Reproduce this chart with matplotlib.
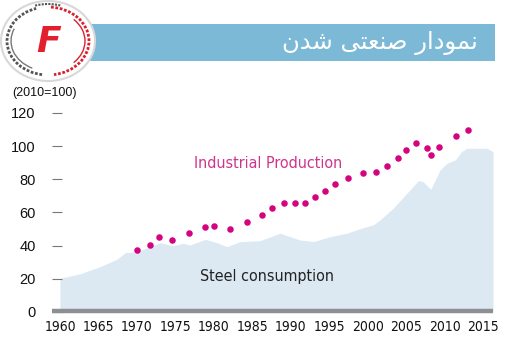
import matplotlib.pyplot as plt
from matplotlib.patches import Arc, Ellipse, Rectangle

# steel consumption outline (2010=100)
steel_years = [1960, 1962.6, 1965.2, 1967.4, 1968.5, 1970, 1971.7, 1973,
               1974.7, 1976, 1976.9, 1978.9, 1980.4, 1981.7, 1983.4, 1986,
               1988.6, 1991.2, 1993, 1995.1, 1997.3, 1999.4, 2000.7, 2001.6,
               2003.3, 2005.1, 2006.6, 2007.2, 2008.2, 2009.4, 2010.3,
               2011.4, 2012.2, 2012.9, 2015.5, 2016.3]
steel_values = [20.3, 23, 27.3, 31.8, 35.8, 36.4, 39.4, 41.8,
                40, 41.4, 40.4, 43.8, 41.8, 39.4, 42.4, 43,
                47.5, 43.4, 42.5, 45.4, 47.5, 50.8, 52.5, 55.5,
                62.5, 71.6, 79.2, 78.6, 74, 85.6, 89.7,
                91.7, 96.7, 98.7, 98.7, 96.7]

# industrial production dots
ip_years = [1970.0, 1971.7, 1972.9, 1974.6, 1976.8, 1978.9, 1980.0, 1982.1,
            1984.3, 1986.2, 1987.6, 1989.1, 1990.5, 1991.9, 1993.2, 1994.5,
            1995.8, 1997.5, 1999.4, 2001.1, 2002.5, 2003.9, 2005.0, 2006.3,
            2007.7, 2008.2, 2009.3, 2011.5, 2013.1]
ip_values = [37.4, 40.2, 45.4, 43.6, 47.8, 51.5, 51.7, 49.9,
             54.5, 58.4, 62.6, 65.8, 66.0, 65.8, 69.2, 73.2,
             77.0, 80.8, 84.0, 84.2, 88.0, 92.7, 97.7, 102.1,
             99.1, 94.9, 99.5, 106.4, 109.6]

x_ticks = list(range(1960, 2016, 5))
y_ticks = [0, 20, 40, 60, 80, 100, 120]

# "نمودار صنعتی شدن" in shaped, visual order
TITLE = "\uFEE5\uFEAA\uFEB7 \uFBFD\uFE98\uFECC\uFEE8\uFEBB \uFEAD\uFE8D\uFEA9\uFEEE\uFEE4\uFEE7"

NARROW = dict(family="DejaVu Sans", stretch="condensed")
PLAIN = ["Liberation Sans", "DejaVu Sans"]

fig = plt.figure(figsize=(5.19, 3.63), dpi=100)

ax = fig.add_axes([0.1008, 0.1405, 0.8596, 0.5711])
ax.set_xlim(1959, 2017)
ax.set_ylim(0, 125)

ax.fill_between(steel_years, steel_values, 0, color="#dce9f3", lw=0)
ax.scatter(ip_years, ip_values, s=22, color="#d6037f", zorder=3, lw=0)
ax.plot([1959, 2016.3], [0.4, 0.4], color="#8e8e93", lw=3.2,
        solid_capstyle="butt", clip_on=False, zorder=4)

ax.text(1977.4, 89.3, "Industrial Production", color="#d0358c",
        fontsize=11.5, va="center", **NARROW)
ax.text(1978.2, 21.3, "Steel consumption", color="#222222",
        fontsize=11.5, va="center", **NARROW)

for side in ("top", "right", "left", "bottom"):
    ax.spines[side].set_visible(False)

ax.set_yticks(y_ticks)
ax.set_yticklabels([str(v) for v in y_ticks], family=PLAIN, fontsize=10.5,
                   color="#111111")
ax.tick_params(axis="y", direction="in", length=7, width=0.8,
               color="#777777", pad=12)
ax.set_xticks(x_ticks)
ax.set_xticklabels([str(v) for v in x_ticks], fontsize=10,
                   color="#111111", **NARROW)
ax.tick_params(axis="x", length=0, pad=6)

# decorations in pixel coordinates
deco = fig.add_axes([0, 0, 1, 1], zorder=-1)
deco.set_xlim(0, 519)
deco.set_ylim(363, 0)
deco.axis("off")

deco.add_patch(Rectangle((90, 24), 405, 37, color="#7cb9d7", lw=0))
deco.text(478, 43, TITLE, color="white", fontsize=17.5, family="DejaVu Sans",
          ha="right", va="center")

deco.text(12, 93, "(2010=100)", fontsize=9, family=PLAIN, color="#111111",
          va="center")

# logo
logo = fig.add_axes([0, 0, 1, 1], zorder=2)
logo.set_xlim(0, 519)
logo.set_ylim(363, 0)
logo.axis("off")
logo.add_patch(Ellipse((48, 41), 94, 80, facecolor="white",
                       edgecolor="#d8d8d8", lw=1.5))
logo.add_patch(Arc((48, 41), 82, 68, theta1=100, theta2=250,
                   color="#555555", lw=2, ls=(0, (1, 0.6))))
logo.add_patch(Arc((48, 41), 82, 68, theta1=-85, theta2=80,
                   color="#d9202f", lw=2, ls=(0, (1, 0.6))))
logo.add_patch(Arc((48, 41), 74, 60, theta1=120, theta2=200,
                   color="#777777", lw=1))
logo.add_patch(Arc((48, 41), 74, 60, theta1=-40, theta2=40,
                   color="#d9202f", lw=1))
logo.add_patch(Arc((48, 41), 88, 74, theta1=250, theta2=290,
                   color="#555555", lw=1.5, ls=(0, (1, 0.6))))
logo.text(49, 42, "F", color="#e31e2d", fontsize=26, fontweight="bold",
          style="italic", family="DejaVu Sans", ha="center", va="center")

fig.savefig("out.png", dpi=100)
